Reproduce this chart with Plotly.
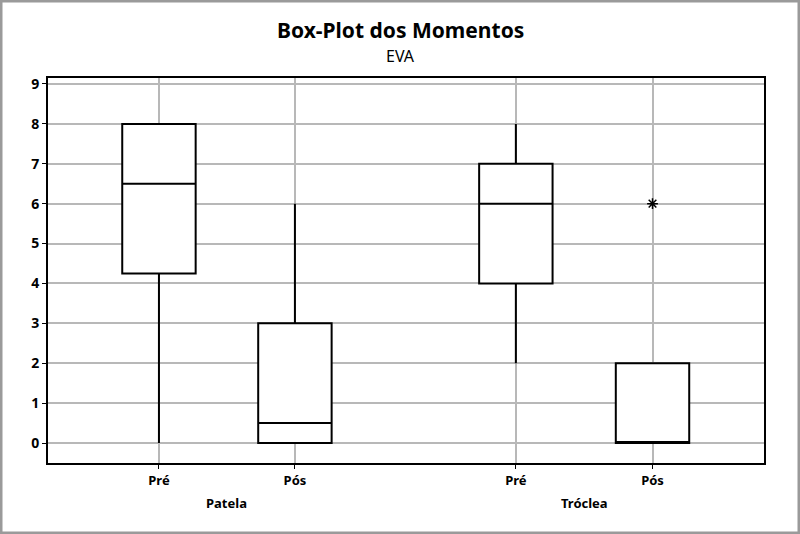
import plotly.graph_objects as go

groups = ["Patela", "Patela", "Tróclea", "Tróclea"]
moments = ["Pré", "Pós", "Pré", "Pós"]
positions = [0, 1, 2.625, 3.63]
q1 = [4.25, 0, 4, 0]
median = [6.5, 0.5, 6, 0]
q3 = [8, 3, 7, 2]
lower = [0, 0, 2, 0]
upper = [8, 6, 8, 2]
outlier_pos = [3.63]
outlier_val = [6]
group_labels = ["Patela", "Tróclea"]
yticks = list(range(0, 10))

FONT = "Noto Sans"
fig = go.Figure()
for i in range(len(positions)):
    fig.add_trace(go.Box(
        x=[positions[i]], q1=[q1[i]], median=[median[i]], q3=[q3[i]],
        lowerfence=[lower[i]], upperfence=[upper[i]],
        width=0.54, whiskerwidth=0, fillcolor="white",
        line=dict(color="black", width=2), boxpoints=False,
        showlegend=False, hoverinfo="skip"))
fig.add_trace(go.Scatter(
    x=outlier_pos, y=outlier_val, mode="markers",
    marker=dict(symbol="asterisk-open", size=9, color="black",
                line=dict(color="black", width=1.5)),
    showlegend=False))

L, R, T, B = 48, 36, 78, 71
W, H = 800, 534
pw, ph = W - L - R, H - T - B

fig.update_layout(
    width=W, height=H,
    margin=dict(l=L, r=R, t=T, b=B),
    paper_bgcolor="white", plot_bgcolor="white",
    font=dict(family=FONT, color="black"),
    xaxis=dict(range=[-0.816, 4.45], tickvals=positions, ticktext=moments,
               showgrid=True, gridcolor="#b8b8b8", gridwidth=1.5,
               zeroline=False, showline=True, linecolor="black", linewidth=2,
               mirror=True, ticks="outside", ticklen=4, tickcolor="black",
               tickfont=dict(size=13, family=FONT, weight="bold")),
    yaxis=dict(range=[-0.5, 9.15], tickvals=yticks,
               showgrid=True, gridcolor="#b8b8b8", gridwidth=1.5,
               zeroline=False, showline=True, linecolor="black", linewidth=2,
               mirror=True, ticks="outside", ticklen=4, tickcolor="black",
               tickfont=dict(size=14, family=FONT, weight="bold")),
)

group_centers = [(positions[0] + positions[1]) / 2, (positions[2] + positions[3]) / 2]
for gx, gl in zip(group_centers, group_labels):
    fig.add_annotation(x=gx, y=-(503 - 463) / ph, xref="x", yref="paper",
                       text=f"<b>{gl}</b>", showarrow=False,
                       font=dict(size=13, family=FONT, color="black"),
                       yanchor="middle")

cx = (W / 2 - L) / pw
fig.add_annotation(x=cx, xref="paper", y=1 + (T - 30) / ph, yref="paper",
                   text="<b>Box-Plot dos Momentos</b>", showarrow=False,
                   font=dict(size=21, family=FONT, color="black"), yanchor="middle")
fig.add_annotation(x=cx, xref="paper", y=1 + (T - 56) / ph, yref="paper",
                   text="EVA", showarrow=False,
                   font=dict(size=16, family=FONT, color="black"), yanchor="middle")

# outer image frame
fig.add_shape(type="rect", xref="paper", yref="paper",
              x0=-(L - 1) / pw, x1=1 + (R - 1) / pw,
              y0=-(B - 1) / ph, y1=1 + (T - 1) / ph,
              line=dict(color="#9a9a9a", width=3), layer="above")

fig.write_html("out.html")
